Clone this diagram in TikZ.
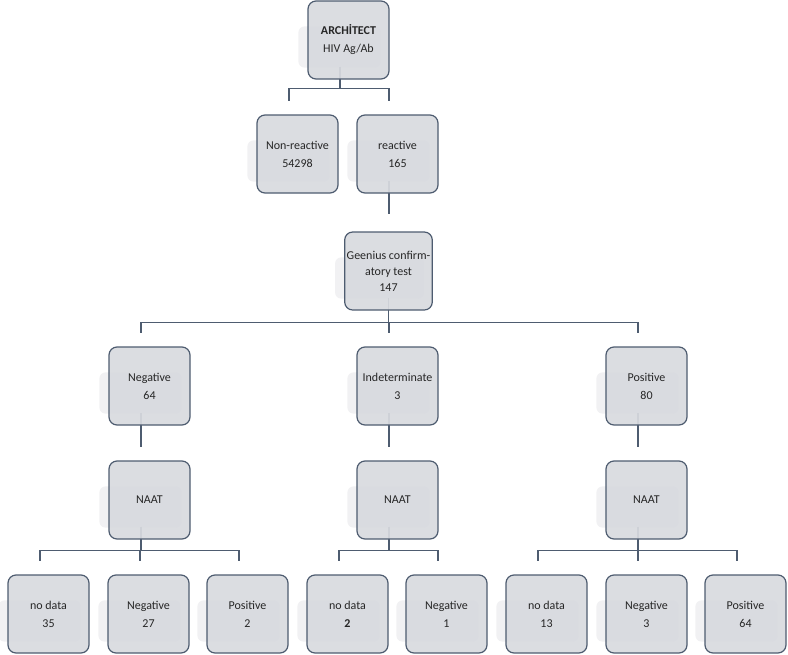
\documentclass[tikz,border=0pt]{standalone}
\usepackage{fontspec}
\setmainfont{Carlito}
\usetikzlibrary{positioning,backgrounds}

\definecolor{boxfill}{RGB}{216,218,223}
\definecolor{boxline}{RGB}{78,92,112}
\definecolor{shade}{RGB}{241,241,243}

\begin{document}
\begin{tikzpicture}[
    x=1pt, y=1pt,
    box/.style={draw=boxline, line width=1.2pt, fill=boxfill, fill opacity=0.93, text opacity=1,
        rounded corners=8pt, minimum width=81pt, minimum height=78pt, inner sep=2pt,
        align=center, text=black!85, font=\fontsize{12}{18}\selectfont},
    link/.style={draw=boxline, line width=1.2pt},
    shadowbox/.style={fill=shade, rounded corners=6pt}
]
    \useasboundingbox (0,0) rectangle (788,-654);

    % Screening test
    \node[box] (arch) at (348.5,-40) {\textbf{ARCHİTECT}\\HIV Ag/Ab};
    \node[box] (nonreact) at (297.5,-154) {Non-reactive\\54298};
    \node[box] (react) at (397.5,-154) {reactive\\165};

    % Confirmatory test
    \node[box, font=\fontsize{12}{16}\selectfont] (geen) at (388.5,-271) {Geenius confirm-\\atory test\\147};
    \node[box] (neg) at (149.5,-386) {Negative\\64};
    \node[box] (indet) at (397.5,-386) {Indeterminate\\3};
    \node[box] (pos) at (646.5,-386) {Positive\\80};

    % NAAT
    \node[box] (naatneg) at (149.5,-500) {NAAT};
    \node[box] (naatind) at (397.5,-500) {NAAT};
    \node[box] (naatpos) at (646.5,-500) {NAAT};

    \node[box] (negnd) at (48.5,-614) {no data\\35};
    \node[box] (negneg) at (148.5,-614) {Negative\\27};
    \node[box] (negpos) at (247.5,-614) {Positive\\2};
    \node[box] (indnd) at (347.5,-614) {no data\\\textbf{2}};
    \node[box] (indneg) at (446.5,-614) {Negative\\1};
    \node[box] (posnd) at (546.5,-614) {no data\\13};
    \node[box] (posneg) at (646.5,-614) {Negative\\3};
    \node[box] (pospos) at (745.5,-614) {Positive\\64};

    \begin{scope}[on background layer]
        % shadows
        \foreach \n in {arch,nonreact,react,geen,neg,indet,pos,naatneg,naatind,naatpos,
                        negnd,negneg,negpos,indnd,indneg,posnd,posneg,pospos}
            \fill[shadowbox] ([xshift=-9pt,yshift=-26pt]\n.north west) rectangle ([xshift=-9pt,yshift=12pt]\n.south east);

        % connectors
        \foreach \c in {nonreact,react}
            \draw[link] ([xshift=-8.5pt,yshift=13pt]arch.south) -- ++(0,-22) -| ([xshift=-8.5pt,yshift=13pt]\c.north);
        \draw[link] ([xshift=-8.5pt,yshift=13pt]react.south) -- ([xshift=0.5pt,yshift=17pt]geen.north);
        \foreach \c in {neg,indet,pos}
            \draw[link] ([yshift=13pt]geen.south) -- ++(0,-25) -| ([xshift=-8.5pt,yshift=13pt]\c.north);
        \draw[link] ([xshift=-8.5pt,yshift=13pt]neg.south) -- ([xshift=-8.5pt,yshift=13pt]naatneg.north);
        \draw[link] ([xshift=-8.5pt,yshift=13pt]indet.south) -- ([xshift=-8.5pt,yshift=13pt]naatind.north);
        \draw[link] ([xshift=-8.5pt,yshift=13pt]pos.south) -- ([xshift=-8.5pt,yshift=13pt]naatpos.north);
        \foreach \c in {negnd,negneg,negpos}
            \draw[link] ([xshift=-8.5pt,yshift=13pt]naatneg.south) -- ++(0,-24) -| ([xshift=-8.5pt,yshift=13pt]\c.north);
        \foreach \c in {indnd,indneg}
            \draw[link] ([xshift=-8.5pt,yshift=13pt]naatind.south) -- ++(0,-24) -| ([xshift=-8.5pt,yshift=13pt]\c.north);
        \foreach \c in {posnd,posneg,pospos}
            \draw[link] ([xshift=-8.5pt,yshift=13pt]naatpos.south) -- ++(0,-24) -| ([xshift=-8.5pt,yshift=13pt]\c.north);
    \end{scope}
\end{tikzpicture}
\end{document}
